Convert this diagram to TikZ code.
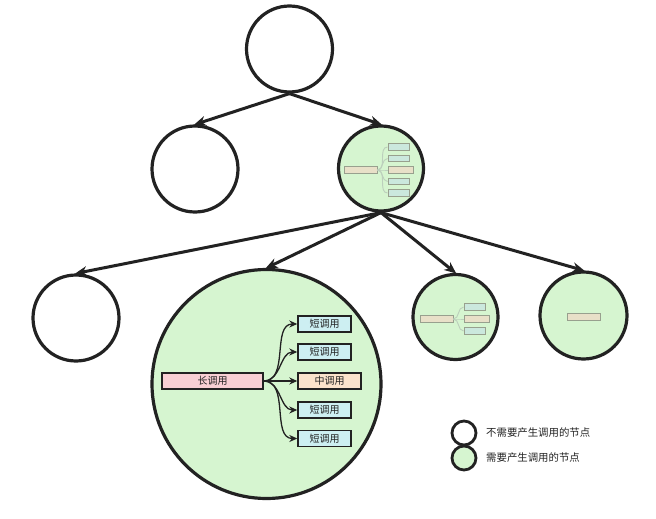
\documentclass[tikz,border=0pt]{standalone}
\usepackage{fontspec}
\newfontfamily\cjk{Noto Sans CJK SC}
\usetikzlibrary{arrows.meta}
\definecolor{edge}{HTML}{222222}
\definecolor{gfill}{HTML}{D6F5D0}
\definecolor{pinkf}{HTML}{F8CFD4}
\definecolor{bluef}{HTML}{CDEFF2}
\definecolor{orangef}{HTML}{FBE3CC}
\definecolor{minibar}{HTML}{E8E0C8}
\definecolor{minibd}{HTML}{98A08E}
\definecolor{minibox}{HTML}{CBE8DD}
\definecolor{miniline}{HTML}{BCCFBC}
\tikzset{
  tnode/.style={circle, draw=edge, line width=3.2pt, inner sep=0pt, fill=white},
  gnode/.style={tnode, fill=gfill},
  bigarrow/.style={draw=edge, line width=3pt, -{Stealth[length=12pt,width=10pt]}, shorten >=-1pt},
  callbox/.style={draw=edge, line width=1.4pt, inner sep=0pt, minimum height=16pt, font=\cjk\fontsize{10}{12}\selectfont, text=edge},
  smallarrow/.style={draw=edge, line width=1.3pt, -{Stealth[length=8pt,width=7pt]}},
  minib/.style={draw=minibd, line width=0.9pt, inner sep=0pt, minimum height=6.5pt},
  minil/.style={draw=miniline, line width=0.9pt},
  legtext/.style={anchor=west, font=\cjk\fontsize{10.4}{12}\selectfont, text=edge, inner sep=0pt}
}
\begin{document}
\begin{tikzpicture}[x=1pt,y=-1pt]
\useasboundingbox[fill=white] (0,0) rectangle (656,519);
% tree nodes
\node[tnode, minimum size=86pt] (top) at (289.5,49) {};
\node[tnode, minimum size=86pt] (l2a) at (195,169) {};
\node[gnode, minimum size=85pt] (l2b) at (381,168.5) {};
\node[tnode, minimum size=86pt] (l3a) at (76,318) {};
\node[gnode, minimum size=229pt] (l3b) at (266.5,384) {};
\node[gnode, minimum size=85pt] (l3c) at (455.5,317) {};
\node[gnode, minimum size=87pt] (l3d) at (583.5,315.5) {};
% arrows
\draw[bigarrow] (top.south) -- (l2a.north);
\draw[bigarrow] (top.south) -- (l2b.north);
\draw[bigarrow] (l2b.south) -- (l3a.north);
\draw[bigarrow] (l2b.south) -- (l3b.north);
\draw[bigarrow] (l2b.south) -- (l3c.north);
\draw[bigarrow] (l2b.south) -- (l3d.north);
% mini tree in l2b
\node[minib, fill=minibar, minimum width=33pt] (ma) at (360.5,170) {};
\node[minib, fill=minibox, minimum width=21pt] (mb1) at (398.5,147) {};
\node[minib, fill=minibox, minimum width=21pt] (mb2) at (398.5,158.5) {};
\node[minib, fill=minibar, minimum width=25pt] (mb3) at (400.5,170) {};
\node[minib, fill=minibox, minimum width=21pt] (mb4) at (398.5,181.5) {};
\node[minib, fill=minibox, minimum width=21pt] (mb5) at (398.5,193) {};
\foreach \b in {mb1,mb2,mb3,mb4,mb5}{\draw[minil] (ma.east) to[out=0,in=180] (\b.west);}
% mini tree in l3c
\node[minib, fill=minibar, minimum width=33pt] (na) at (436.5,319) {};
\node[minib, fill=minibox, minimum width=21pt] (nb1) at (474.5,307) {};
\node[minib, fill=minibar, minimum width=25pt] (nb2) at (476.5,319) {};
\node[minib, fill=minibox, minimum width=21pt] (nb3) at (474.5,331) {};
\foreach \b in {nb1,nb2,nb3}{\draw[minil] (na.east) to[out=0,in=180] (\b.west);}
% bar in l3d
\node[minib, fill=minibar, minimum width=33pt] (da) at (583.5,317) {};
% call tree in l3b
\node[callbox, fill=pinkf, minimum width=101pt] (long) at (212.5,381) {长调用};
\node[callbox, fill=bluef, minimum width=53pt] (s1) at (324.5,324) {短调用};
\node[callbox, fill=bluef, minimum width=53pt] (s2) at (324.5,352) {短调用};
\node[callbox, fill=orangef, minimum width=63pt] (mid) at (329.5,381) {中调用};
\node[callbox, fill=bluef, minimum width=53pt] (s4) at (324.5,410) {短调用};
\node[callbox, fill=bluef, minimum width=53pt] (s5) at (324.5,438.5) {短调用};
\foreach \b in {s1,s2,s4,s5}{\draw[smallarrow] (long.east) to[out=0,in=180] (\b.west);}
\draw[smallarrow] (long.east) -- (mid.west);
% legend
\node[tnode, minimum size=24pt, line width=2.8pt] (lg1) at (464,433) {};
\node[gnode, minimum size=24pt, line width=2.8pt] (lg2) at (464,458) {};
\node[legtext] (lt1) at (486,433) {不需要产生调用的节点};
\node[legtext] (lt2) at (486,458) {需要产生调用的节点};
\end{tikzpicture}
\end{document}
